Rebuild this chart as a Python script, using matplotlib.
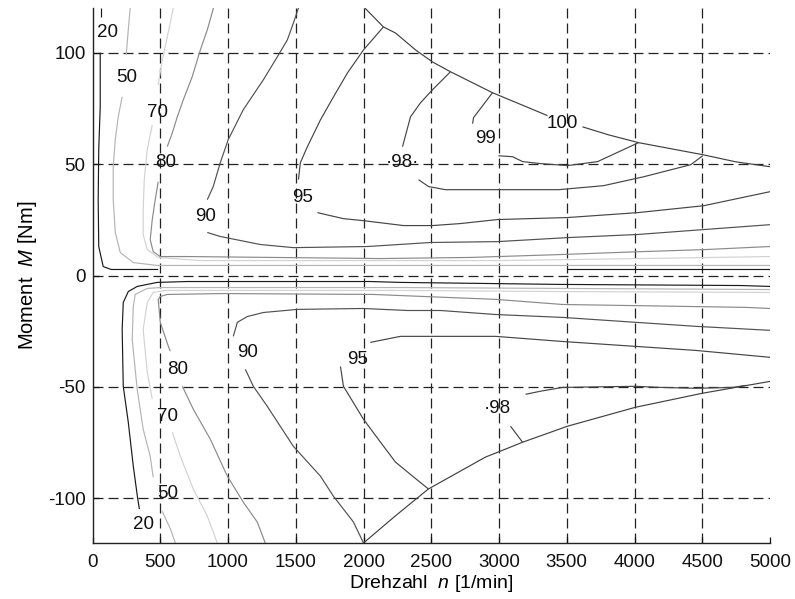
import matplotlib
matplotlib.use('Agg')
import matplotlib.pyplot as plt

plt.rcParams['font.family'] = ['Liberation Sans', 'DejaVu Sans']
plt.rcParams['mathtext.fontset'] = 'custom'
plt.rcParams['mathtext.it'] = 'Liberation Sans:italic'
plt.rcParams['mathtext.rm'] = 'Liberation Sans'
plt.rcParams['axes.unicode_minus'] = False

# Wirkungsgrad-Kennfeld: Punkte (Drehzahl n [1/min], Moment M [Nm])
# Volllastgrenze (Label 100)
border_up_a = [(2010, 120), (2147, 111.5), (2236, 108.8), (2384, 101.2), (2509, 95.8),
               (2642, 91.4), (2952, 82.0), (3292, 73.4), (3358, 71.7)]
border_up_b = [(3616, 66.7), (3808, 63.1), (4030, 59.6), (4503, 54.2), (4747, 51.0), (5000, 48.8)]
border_low = [(2000, -120), (2234, -107.9), (2478, -95.8), (2899, -81.5), (3174, -74.8),
              (3506, -67.6), (4008, -59.1), (4503, -52.8), (5000, -47.5)]

# 20 %
iso20_up_a = [(64, 120), (64, 116)]
iso20_up_b = [(57, 100), (57, 75.7), (46, 56.4), (42, 34), (46, 13), (79, 4.0), (138, 2.7), (485, 2.7)]
iso20_up_c = [(3500, 2.7), (5000, 2.7)]
iso20_low = [(346, -104.8), (331, -99), (301, -85.5), (264, -65.8), (227, -49.7), (219, -24.2),
             (227, -12.1), (264, -7.2), (330, -4.9), (478, -3.1), (700, -2.7), (2050, -2.7),
             (2273, -3.1), (3455, -4.0), (4784, -4.5), (5000, -4.9)]

# 50 %
iso50_up_a = [(278, 120), (264, 110.2), (249, 99)]
iso50_up_b = [(219, 80.2), (190, 71.2), (168, 60.9), (153, 48.8), (153, 34), (168, 19.3),
              (205, 10.3), (301, 5.8), (478, 4.5), (5000, 4.5)]
iso50_low_a = [(612, -120), (575, -113.7), (515, -105.8)]
iso50_low_b = [(448, -90.5), (426, -81.1), (374, -69.0), (330, -51.1), (293, -28.7), (301, -13.9),
               (315, -8.5), (404, -5.8), (500, -5.4), (2273, -5.4), (3455, -5.8), (5000, -6.3)]

# 70 %
iso70_up_a = [(596, 120), (552, 107), (515, 96.7), (485, 85.5)]
iso70_up_b = [(441, 67.6), (404, 56.4), (382, 43), (374, 29.6), (374, 18.4), (404, 11.6), (485, 8.1),
              (796, 6.7), (3011, 6.7), (4045, 7.6), (5000, 8.5)]
iso70_low_a = [(921, -120), (847, -107.9), (744, -95.8), (648, -81.1), (589, -70.3)]
iso70_low_b = [(441, -55.5), (404, -43.4), (374, -24.2), (404, -12.1), (448, -7.6), (537, -6.7),
               (2273, -6.7), (3455, -7.2), (5000, -7.6)]

# 80 %
iso80_up_a = [(893, 120), (847, 110.2), (796, 101.2), (736, 89.2), (670, 78.8), (626, 71.2),
              (589, 64), (552, 57.8)]
iso80_up_b = [(485, 42.1), (463, 34), (441, 25.1), (426, 16.1), (448, 10.7), (500, 8.5), (700, 8.5),
              (2125, 7.6), (2790, 8.1), (3455, 9.4), (4045, 10.7), (4510, 11.6), (5000, 13)]
iso80_low_a = [(1275, -120), (1216, -110.6), (1113, -101.7), (995, -90), (869, -73.4), (744, -60),
               (663, -49.7)]
iso80_low_b = [(574, -34), (560, -31.8), (500, -21), (485, -10.7), (500, -9.4), (552, -8.5), (966, -8.1),
               (2074, -8.5), (2642, -9.9), (2974, -10.7), (3469, -13), (4821, -14.3), (5000, -14.8)]

# 90 %
iso90_up_a = [(1520, 120), (1483, 113.3), (1438, 105.7), (1364, 98.1), (1261, 87.8), (1113, 74.4),
              (1002, 61), (943, 50.6), (891, 39.9), (847, 34)]
iso90_up_b = [(847, 19.3), (943, 17.5), (1239, 13.9), (1483, 12.5), (2029, 13), (2494, 14.8),
              (2989, 15.2), (3506, 17), (4023, 18.4), (4510, 20.6), (5000, 22.8)]
iso90_low_a = [(1039, -27.3), (1069, -21), (1143, -18.4), (1261, -16.6), (1512, -15.2), (2000, -14.8),
               (2325, -15.7), (2569, -15.7), (2974, -17.5), (3469, -18.8), (4008, -21), (4451, -22.8),
               (5000, -24.6)]
iso90_low_b = [(1128, -42.1), (1187, -49.7), (1290, -58.7), (1482, -76.6), (1682, -90), (1778, -99),
               (1926, -110.6), (2000, -120)]

# 95 %
iso95_up_a = [(2147, 111.5), (2000, 101.2), (1882, 90.9), (1779, 80.2), (1683, 69.9), (1586, 57.8),
              (1534, 50.6), (1520, 43)]
iso95_up_b = [(1660, 28.2), (1852, 25.5), (2000, 24.6), (2295, 22.4), (2509, 22.4), (2716, 23.3),
              (2989, 25.1), (3506, 26), (4023, 28.2), (4510, 31.3), (5000, 37.6)]
iso95_low_a = [(2050, -30), (2273, -27.3), (2974, -27.3), (3469, -29.6), (4008, -31.8), (4451, -33.6),
               (5000, -36.7)]
iso95_low_b = [(1830, -40.8), (1852, -49.7), (2000, -64.5), (2148, -76.6), (2236, -83.7), (2362, -90),
               (2480, -95.8)]

# 98 %
iso98_up_a = [(2642, 91.4), (2509, 83.3), (2421, 77.5), (2347, 71.2), (2288, 57.8)]
iso98_up_b = [(2406, 43), (2480, 39.9), (2605, 38.5), (3440, 38.5), (3772, 40.3), (4068, 44.3),
              (4415, 49.7), (4503, 53.7)]
iso98_low_a = [(3174, -74.8), (3085, -67.6)]
iso98_low_b = [(3196, -53.3), (3307, -51.9), (3469, -50.2), (4008, -49.7), (4193, -50.2), (4451, -50.6),
               (4724, -50.2), (4820, -49.3)]

# 99 %
iso99_up_a = [(2952, 82), (2812, 70.8), (2805, 68.1)]
iso99_up_b = [(2996, 53.7), (3100, 53.3), (3174, 51.1), (3307, 50.2), (3506, 49.3), (3728, 51.1),
              (4030, 59.6)]

# Beschriftungen der Hoehenlinien
label_text = ['20', '50', '70', '80', '90', '95', '\u00b798\u00b7', '99', '100',
              '90', '95', '80', '70', '50', '20', '\u00b798']
label_n = [109, 249, 478, 538, 832, 1549, 2288, 2900, 3470,
           1143, 1955, 626, 552, 552, 375, 2990]
label_m = [109, 89, 73, 50.6, 26.4, 35, 50.6, 61.4, 68,
           -34.5, -37.6, -42.1, -63.1, -98, -111.5, -59.5]

x_ticks = [0, 500, 1000, 1500, 2000, 2500, 3000, 3500, 4000, 4500, 5000]
y_ticks = [-100, -50, 0, 50, 100]

# Linienfarben je Niveau (Graustufen wie im Original)
lines = [
    (border_up_a, '#404040'), (border_up_b, '#404040'), (border_low, '#404040'),
    (iso20_up_a, '#1a1a1a'), (iso20_up_b, '#1a1a1a'), (iso20_up_c, '#1a1a1a'), (iso20_low, '#1a1a1a'),
    (iso50_up_a, '#b4b4b4'), (iso50_up_b, '#b4b4b4'), (iso50_low_a, '#b4b4b4'), (iso50_low_b, '#b4b4b4'),
    (iso70_up_a, '#d2d2d2'), (iso70_up_b, '#d2d2d2'), (iso70_low_a, '#d2d2d2'), (iso70_low_b, '#d2d2d2'),
    (iso80_up_a, '#8a8a8a'), (iso80_up_b, '#8a8a8a'), (iso80_low_a, '#8a8a8a'), (iso80_low_b, '#8a8a8a'),
    (iso90_up_a, '#505050'), (iso90_up_b, '#505050'), (iso90_low_a, '#505050'), (iso90_low_b, '#505050'),
    (iso95_up_a, '#454545'), (iso95_up_b, '#454545'), (iso95_low_a, '#454545'), (iso95_low_b, '#454545'),
    (iso98_up_a, '#454545'), (iso98_up_b, '#454545'), (iso98_low_a, '#454545'), (iso98_low_b, '#454545'),
    (iso99_up_a, '#454545'), (iso99_up_b, '#454545'),
]

fig = plt.figure(figsize=(7.95, 5.99), dpi=100)
ax = fig.add_axes([92.5 / 795, 56 / 599, 677.5 / 795, 535 / 599])

# gestricheltes Gitter
dash = (0, (8, 4))
for xv in x_ticks[1:-1]:
    ax.axvline(xv, color='#222222', linestyle=dash, linewidth=0.9, zorder=1)
for yv in y_ticks:
    ax.axhline(yv, color='#222222', linestyle=dash, linewidth=0.9, zorder=1)

for pts, col in lines:
    ax.plot([p[0] for p in pts], [p[1] for p in pts], color=col, linewidth=0.85, zorder=2,
            solid_capstyle='butt')

for t, xn, ym in zip(label_text, label_n, label_m):
    ax.text(xn, ym, t, fontsize=13.5, ha='center', va='center', color='#111111', zorder=3)

ax.set_xlim(0, 5000)
ax.set_ylim(-120, 120)
ax.set_xticks(x_ticks)
ax.set_yticks(y_ticks)
ax.set_xticklabels([str(v) for v in x_ticks])
ax.set_yticklabels([str(v) for v in y_ticks])
ax.tick_params(direction='in', length=4, width=0.9, labelsize=13.5, colors='#111111')
ax.tick_params(axis='x', pad=8)
ax.tick_params(axis='y', pad=5)

for side in ['top', 'right']:
    ax.spines[side].set_visible(False)
for side in ['left', 'bottom']:
    ax.spines[side].set_linewidth(1.0)
    ax.spines[side].set_color('#222222')

ax.set_xlabel(r'Drehzahl  $\mathit{n}$ [1/min]', fontsize=14, labelpad=1)
ax.set_ylabel(r'Moment  $\mathit{M}$ [Nm]', fontsize=14.5, labelpad=6)

fig.savefig('out.png', dpi=100, facecolor='white')
plt.close(fig)
